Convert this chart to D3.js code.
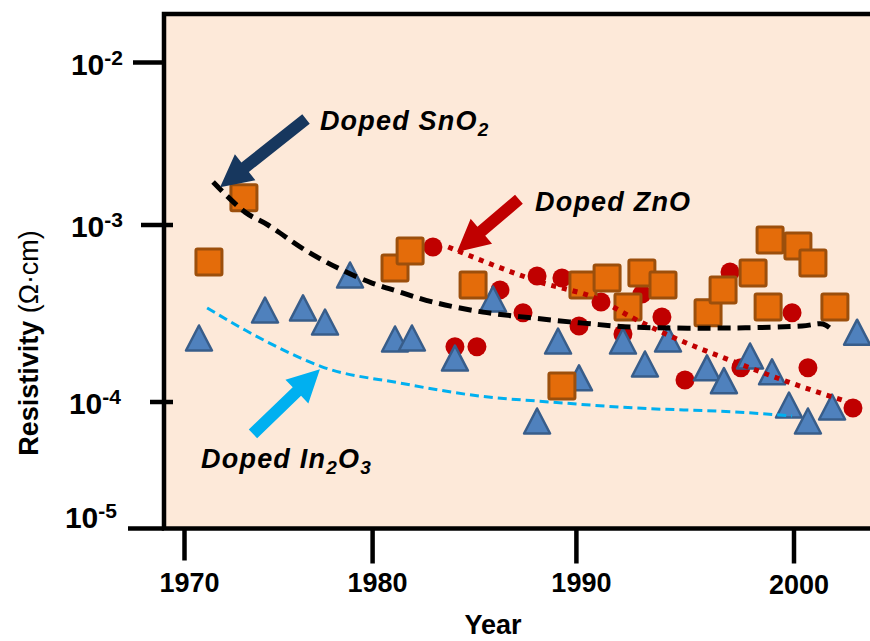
<!DOCTYPE html>
<html>
<head>
<meta charset="utf-8">
<script src="https://cdn.jsdelivr.net/npm/d3@7"></script>
<style>
  html, body { margin: 0; padding: 0; background: #fff; }
  svg { display: block; font-family: "Liberation Sans", Arial, sans-serif; }
</style>
</head>
<body>
<svg id="chart" width="870" height="641"></svg>
<script>
// ---- Axis ticks ----
const xTicks = [1970, 1980, 1990, 2000];
const yTicks = [1e-2, 1e-3, 1e-4, 1e-5];

// ---- Doped SnO2 (squares) ----
const snYears  = [1971.3, 1973.16, 1981.1, 1981.84, 1984.93, 1989.29, 1990.3, 1991.41, 1992.37, 1993.01,
                  1993.98, 1996.05, 1996.74, 1998.12, 1998.81, 1998.9, 2000.18, 2000.87, 2001.88];
const snValues = [6.18e-4, 1.47e-3, 5.71e-4, 7.13e-4, 4.58e-4, 1.23e-4, 4.58e-4, 5.02e-4, 3.44e-4, 5.36e-4,
                  4.58e-4, 3.19e-4, 4.30e-4, 5.36e-4, 3.44e-4, 8.23e-4, 7.61e-4, 6.10e-4, 3.44e-4];

// ---- Doped ZnO (circles) ----
const znYears  = [1982.96, 1984.04, 1985.12, 1986.25, 1987.38, 1988.07, 1989.29, 1990.12, 1991.13, 1992.14,
                  1993.01, 1993.93, 1994.99, 1997.06, 1997.56, 1999.91, 2000.64, 2002.71];
const znValues = [7.51e-4, 2.05e-4, 2.05e-4, 4.30e-4, 3.19e-4, 5.15e-4, 5.02e-4, 2.69e-4, 3.67e-4, 2.42e-4,
                  4.07e-4, 3.02e-4, 1.33e-4, 5.42e-4, 1.56e-4, 3.19e-4, 1.56e-4, 8.97e-5];

// ---- Doped In2O3 (triangles) ----
const inYears  = [1970.77, 1974.28, 1976.3, 1977.47, 1978.8, 1981.1, 1981.93, 1984.04, 1985.91, 1988.07,
                  1989.1, 1990.12, 1992.14, 1993.15, 1994.21, 1996.0, 1996.78, 1997.98, 1998.99, 1999.77,
                  2000.64, 2001.75, 2002.9];
const inValues = [2.30e-4, 3.31e-4, 3.40e-4, 2.83e-4, 5.22e-4, 2.27e-4, 2.30e-4, 1.77e-4, 3.82e-4, 7.08e-5,
                  2.21e-4, 1.37e-4, 2.21e-4, 1.64e-4, 2.27e-4, 1.56e-4, 1.32e-4, 1.82e-4, 1.48e-4, 9.47e-5,
                  7.08e-5, 9.13e-5, 2.48e-4];

// ---- Trend lines ----
const snTrendYears  = [1971.52, 1973.22, 1974.44, 1976.41, 1978.16, 1979.97, 1981.34, 1982.96, 1985.42, 1987.87,
                       1990.3, 1992.6, 1997.29, 2000.37, 2001.33, 2001.65];
const snTrendValues = [1.84e-3, 1.20e-3, 1.0e-3, 7.22e-4, 5.71e-4, 4.70e-4, 4.18e-4, 3.67e-4, 3.22e-4, 2.98e-4,
                       2.79e-4, 2.65e-4, 2.62e-4, 2.69e-4, 2.76e-4, 2.62e-4];

const znTrendYears  = [1983.71, 1988.22, 1991.08, 1992.6, 1994.21, 1997.29, 1999.72, 2002.48];
const znTrendValues = [7.51e-4, 4.76e-4, 3.77e-4, 2.98e-4, 2.39e-4, 1.68e-4, 1.30e-4, 1.0e-4];

const inTrendYears  = [1971.2, 1973.22, 1975.24, 1977.31, 1981.34, 1985.26, 1988.7, 1992.69, 1997.29, 1999.91];
const inTrendValues = [3.40e-4, 2.55e-4, 1.97e-4, 1.58e-4, 1.28e-4, 1.08e-4, 1.0e-4, 8.97e-5, 8.34e-5, 7.76e-5];

// ---- Annotations (tail year/value -> tip year/value, label anchor) ----
const annNames      = ['SnO', 'ZnO', 'In'];
const arrowTailYear = [1976.46, 1987.18, 1973.64];
const arrowTailVal  = [4.49e-3, 1.44e-3, 5.60e-5];
const arrowTipYear  = [1971.89, 1984.14, 1977.2];
const arrowTipVal   = [1.71e-3, 7.04e-4, 1.53e-4];
const labelYear     = [1977.2, 1987.97, 1970.88];
const labelVal      = [3.85e-3, 1.22e-3, 3.02e-5];

// ---- Layout ----
const svg = d3.select('#chart');
const frame = { left: 164, top: 14, bottom: 528.5, right: 885 };

// the original figure has uneven decade/year spacing, so the scales are piecewise
const x = d3.scaleLinear()
  .domain(xTicks)
  .range([184.5, 372.6, 576.4, 794]);

const y = d3.scaleLog()
  .domain([1e-5, 1e-4, 1e-3, 1e-2])
  .range([528.5, 402, 225, 62.5]);

// ---- Plot frame ----
svg.append('rect')
  .attr('x', frame.left)
  .attr('y', frame.top)
  .attr('width', frame.right - frame.left)
  .attr('height', frame.bottom - frame.top)
  .attr('fill', '#fde9d9')
  .attr('stroke', '#000')
  .attr('stroke-width', 4.5);

// ---- Y ticks + labels ----
const yInner = d => (d === 1e-3 || d === 1e-4) ? 9 : 0;
const yOuter = d => d === 1e-5 ? 36 : (d === 1e-2 ? 31 : d === 1e-3 ? 23 : 14);

svg.append('g').selectAll('line')
  .data(yTicks)
  .join('line')
  .attr('x1', d => frame.left - yOuter(d))
  .attr('x2', d => frame.left + yInner(d))
  .attr('y1', d => y(d))
  .attr('y2', d => y(d))
  .attr('stroke', '#000')
  .attr('stroke-width', 4.5);

const yLab = svg.append('g').selectAll('text')
  .data(yTicks)
  .join('text')
  .attr('x', d => d === 1e-5 ? 117 : (d === 1e-4 ? 121 : 123))
  .attr('y', d => y(d) + (d === 1e-5 ? -1 : 12))
  .attr('text-anchor', 'end')
  .attr('font-size', 30)
  .attr('font-weight', 'bold')
  .attr('fill', '#000');
yLab.append('tspan').text('10');
yLab.append('tspan')
  .attr('font-size', 21)
  .attr('dy', -10)
  .text(d => String(Math.round(Math.log10(d))));

// ---- X ticks + labels ----
svg.append('g').selectAll('line')
  .data(xTicks)
  .join('line')
  .attr('x1', d => x(d))
  .attr('x2', d => x(d))
  .attr('y1', frame.bottom)
  .attr('y2', d => frame.bottom + (d === 1970 ? 32 : 35))
  .attr('stroke', '#000')
  .attr('stroke-width', 4.5);

svg.append('g').selectAll('text')
  .data(xTicks)
  .join('text')
  .attr('x', d => x(d) + 5)
  .attr('y', d => 592 + (d === 2000 ? 2 : 0))
  .attr('text-anchor', 'middle')
  .attr('font-size', 27)
  .attr('font-weight', 'bold')
  .text(d => d);

// ---- Axis titles ----
svg.append('text')
  .attr('x', 493)
  .attr('y', 634)
  .attr('text-anchor', 'middle')
  .attr('font-size', 27)
  .attr('font-weight', 'bold')
  .text('Year');

const yTitle = svg.append('text')
  .attr('transform', 'translate(38,343) rotate(-90)')
  .attr('text-anchor', 'middle')
  .attr('font-size', 27)
  .attr('font-weight', 'bold');
yTitle.append('tspan').text('Resistivity ');
yTitle.append('tspan').attr('font-weight', 'normal').text('(Ω·cm)');

// ---- Markers ----
const zn = znYears.map((yr, i) => ({ x: yr, v: znValues[i] }));
const inn = inYears.map((yr, i) => ({ x: yr, v: inValues[i] }));
const sn = snYears.map((yr, i) => ({ x: yr, v: snValues[i] }));

svg.append('g').selectAll('circle')
  .data(zn)
  .join('circle')
  .attr('cx', d => x(d.x))
  .attr('cy', d => y(d.v))
  .attr('r', 9.5)
  .attr('fill', '#c00000');

const tri = 'M0,-12.5L13,12.5L-13,12.5Z';
svg.append('g').selectAll('path')
  .data(inn)
  .join('path')
  .attr('transform', d => `translate(${x(d.x)},${y(d.v)})`)
  .attr('d', tri)
  .attr('fill', '#4f81bd')
  .attr('stroke', '#385d8a')
  .attr('stroke-width', 2.5)
  .attr('stroke-linejoin', 'round');

svg.append('g').selectAll('rect')
  .data(sn)
  .join('rect')
  .attr('x', d => x(d.x) - 13)
  .attr('y', d => y(d.v) - 13)
  .attr('width', 26)
  .attr('height', 26)
  .attr('rx', 1.5)
  .attr('fill', '#e46c0a')
  .attr('stroke', '#9c4f0c')
  .attr('stroke-width', 3);

// ---- Trend lines ----
const line = d3.line()
  .x(d => x(d[0]))
  .y(d => y(d[1]))
  .curve(d3.curveMonotoneX);

svg.append('path')
  .attr('d', line(inTrendYears.map((t, i) => [t, inTrendValues[i]])))
  .attr('fill', 'none')
  .attr('stroke', '#00b0f0')
  .attr('stroke-width', 3)
  .attr('stroke-dasharray', '9,5');

svg.append('path')
  .attr('d', line(znTrendYears.map((t, i) => [t, znTrendValues[i]])))
  .attr('fill', 'none')
  .attr('stroke', '#c00000')
  .attr('stroke-width', 5)
  .attr('stroke-dasharray', '5,6');

svg.append('path')
  .attr('d', d3.line().x(d => x(d[0])).y(d => y(d[1])).curve(d3.curveCatmullRom)(
      snTrendYears.map((t, i) => [t, snTrendValues[i]])))
  .attr('fill', 'none')
  .attr('stroke', '#000')
  .attr('stroke-width', 5)
  .attr('stroke-dasharray', '13,7');

// ---- Arrows ----
const arrowColors = ['#17375e', '#c00000', '#00b0f0'];

function arrowPoints(x0, y0, x1, y1, shaft, headW, headL) {
  const dx = x1 - x0, dy = y1 - y0;
  const len = Math.hypot(dx, dy);
  const ux = dx / len, uy = dy / len;
  const px = -uy, py = ux;
  const bx = x1 - ux * headL, by = y1 - uy * headL;
  const pts = [
    [x0 + px * shaft / 2, y0 + py * shaft / 2],
    [bx + px * shaft / 2, by + py * shaft / 2],
    [bx + px * headW / 2, by + py * headW / 2],
    [x1, y1],
    [bx - px * headW / 2, by - py * headW / 2],
    [bx - px * shaft / 2, by - py * shaft / 2],
    [x0 - px * shaft / 2, y0 - py * shaft / 2]
  ];
  return pts.map(p => p.join(',')).join(' ');
}

svg.append('g').selectAll('polygon')
  .data(annNames)
  .join('polygon')
  .attr('points', (d, i) => arrowPoints(
    x(arrowTailYear[i]), y(arrowTailVal[i]),
    x(arrowTipYear[i]), y(arrowTipVal[i]),
    12, 33, 32))
  .attr('fill', (d, i) => arrowColors[i]);

// ---- Annotation labels ----
const ann = svg.append('g')
  .attr('font-size', 27)
  .attr('font-weight', 'bold')
  .attr('font-style', 'italic')
  .attr('letter-spacing', 1.2)
  .attr('fill', '#000');

const t1 = ann.append('text').attr('x', x(labelYear[0])).attr('y', y(labelVal[0]));
t1.append('tspan').text('Doped SnO');
t1.append('tspan').attr('font-size', 19).attr('dy', 6).text('2');

ann.append('text').attr('x', x(labelYear[1])).attr('y', y(labelVal[1])).text('Doped ZnO');

const t3 = ann.append('text').attr('x', x(labelYear[2])).attr('y', y(labelVal[2]));
t3.append('tspan').text('Doped In');
t3.append('tspan').attr('font-size', 19).attr('dy', 6).text('2');
t3.append('tspan').attr('dy', -6).text('O');
t3.append('tspan').attr('font-size', 19).attr('dy', 6).text('3');
</script>
</body>
</html>
